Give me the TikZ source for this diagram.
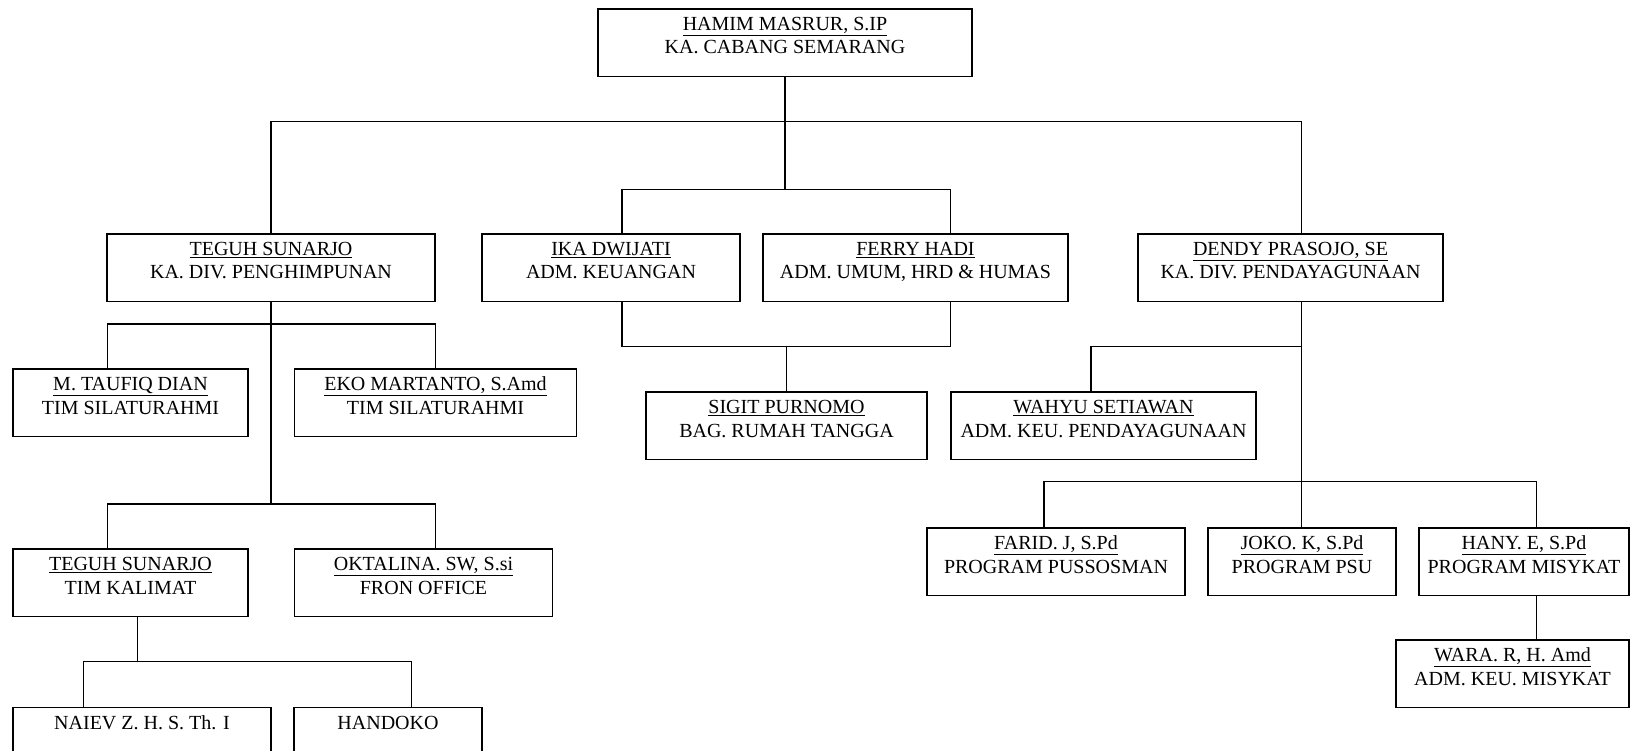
\documentclass[tikz,border=0pt]{standalone}
\usepackage{fontspec}
\setmainfont{Liberation Serif}
\usepackage{tikz}
\newcommand{\orgfont}{\fontsize{20}{23.5}\selectfont}
\newcommand{\jabatan}[2]{\begin{tabular}[t]{@{}c@{}}\underline{#1}\\#2\end{tabular}}
\tikzset{org node/.style={rectangle,draw,line width=1.3pt,inner sep=0pt,outer sep=0pt,text height=21.5pt,text depth=46pt,font=\orgfont},
}
\usetikzlibrary{positioning}

\begin{document}
\begin{tikzpicture}[x=1pt,y=-1pt,line width=1.3pt]
			\clip (0,0) rectangle (1630,751);
			
			%% pimpinan
			\node[org node,minimum width=374pt,anchor=north west] (hamim) at (598,9) {\jabatan{HAMIM MASRUR, S.IP}{KA. CABANG SEMARANG}};
			
			%% divisi dan admin
			\node[org node,minimum width=328pt,anchor=north west] (teguh) at (107,234) {\jabatan{TEGUH SUNARJO}{KA. DIV. PENGHIMPUNAN}};
			\node[org node,minimum width=258pt] (ika) [right = 47pt of teguh] {\jabatan{IKA DWIJATI}{ADM. KEUANGAN}};
			\node[org node,minimum width=305pt] (ferry) [right = 23pt of ika] {\jabatan{FERRY HADI}{ADM. UMUM, HRD \& HUMAS}};
			\node[org node,minimum width=305pt] (dendy) [right = 70pt of ferry] {\jabatan{DENDY PRASOJO, SE}{KA. DIV. PENDAYAGUNAAN}};
			
			%% penghimpunan
			\node[org node,minimum width=235pt,anchor=north west] (taufiq) at (13,369) {\jabatan{M. TAUFIQ DIAN}{TIM SILATURAHMI}};
			\node[org node,minimum width=282pt] (eko) [right = 46.5pt of taufiq] {\jabatan{EKO MARTANTO, S.Amd}{TIM SILATURAHMI}};
			\node[org node,minimum width=235pt,anchor=north west] (teguhk) at (13,549) {\jabatan{TEGUH SUNARJO}{TIM KALIMAT}};
			\node[org node,minimum width=258pt] (oktalina) [right = 46.5pt of teguhk] {\jabatan{OKTALINA. SW, S.si}{FRON OFFICE}};
			\node[org node,minimum width=258pt,anchor=north west] (naiev) at (13,707.5) {NAIEV Z. H. S. Th. I};
			\node[org node,minimum width=188pt] (handoko) [right = 23pt of naiev] {HANDOKO};
			
			%% rumah tangga
			\node[org node,minimum width=281pt,anchor=north west] (sigit) at (646,392) {\jabatan{SIGIT PURNOMO}{BAG. RUMAH TANGGA}};
			
			%% pendayagunaan
			\node[org node,minimum width=305pt] (wahyu) [right = 24pt of sigit] {\jabatan{WAHYU SETIAWAN}{ADM. KEU. PENDAYAGUNAAN}};
			\node[org node,minimum width=258pt,anchor=north west] (farid) at (927,528) {\jabatan{FARID. J, S.Pd}{PROGRAM PUSSOSMAN}};
			\node[org node,minimum width=188pt] (joko) [right = 23pt of farid] {\jabatan{JOKO. K, S.Pd}{PROGRAM PSU}};
			\node[org node,minimum width=210pt] (hany) [right = 23pt of joko] {\jabatan{HANY. E, S.Pd}{PROGRAM MISYKAT}};
			\node[org node,minimum width=233pt,anchor=north west] (wara) at (1396,640) {\jabatan{WARA. R, H. Amd}{ADM. KEU. MISYKAT}};
			
			%% garis
			\draw (hamim.south) -- ++(0,45) coordinate (b1) -- ++(0,68) coordinate (b2);
			\draw (teguh.north) |- (b1) -| ([xshift=11pt]dendy.north);
			\draw ([xshift=11pt]ika.north) |- (b2) -| ([xshift=35pt]ferry.north);
			\draw ([xshift=11pt]ika.south) -- ++(0,45) coordinate (b3) -| ([xshift=35pt]ferry.south);
			\draw (sigit.north) -- (sigit.north |- b3);
			
			\draw (teguh.south) -- ++(0,22.5) coordinate (b4) -- ++(0,180) coordinate (b5);
			\draw ([xshift=-23pt]taufiq.north) |- (b4) -| (eko.north);
			\draw ([xshift=-23pt]teguhk.north) |- (b5) -| ([xshift=12pt]oktalina.north);
			\draw ([xshift=7pt]teguhk.south) -- ++(0,45) coordinate (b6);
			\draw ([xshift=-58.5pt]naiev.north) |- (b6) -| ([xshift=23.5pt]handoko.north);
			
			\draw ([xshift=11pt]dendy.south) -- ++(0,45) coordinate (b7) -- ++(0,135) coordinate (b8) -- (b8 |- joko.north);
			\draw ([xshift=-12.5pt]wahyu.north) |- (b7);
			\draw ([xshift=-12pt]farid.north) |- (b8) -| ([xshift=12.5pt]hany.north);
			\draw ([xshift=12.5pt]hany.south) -- ([xshift=12.5pt]hany.south |- wara.north);
\end{tikzpicture}
\end{document}
